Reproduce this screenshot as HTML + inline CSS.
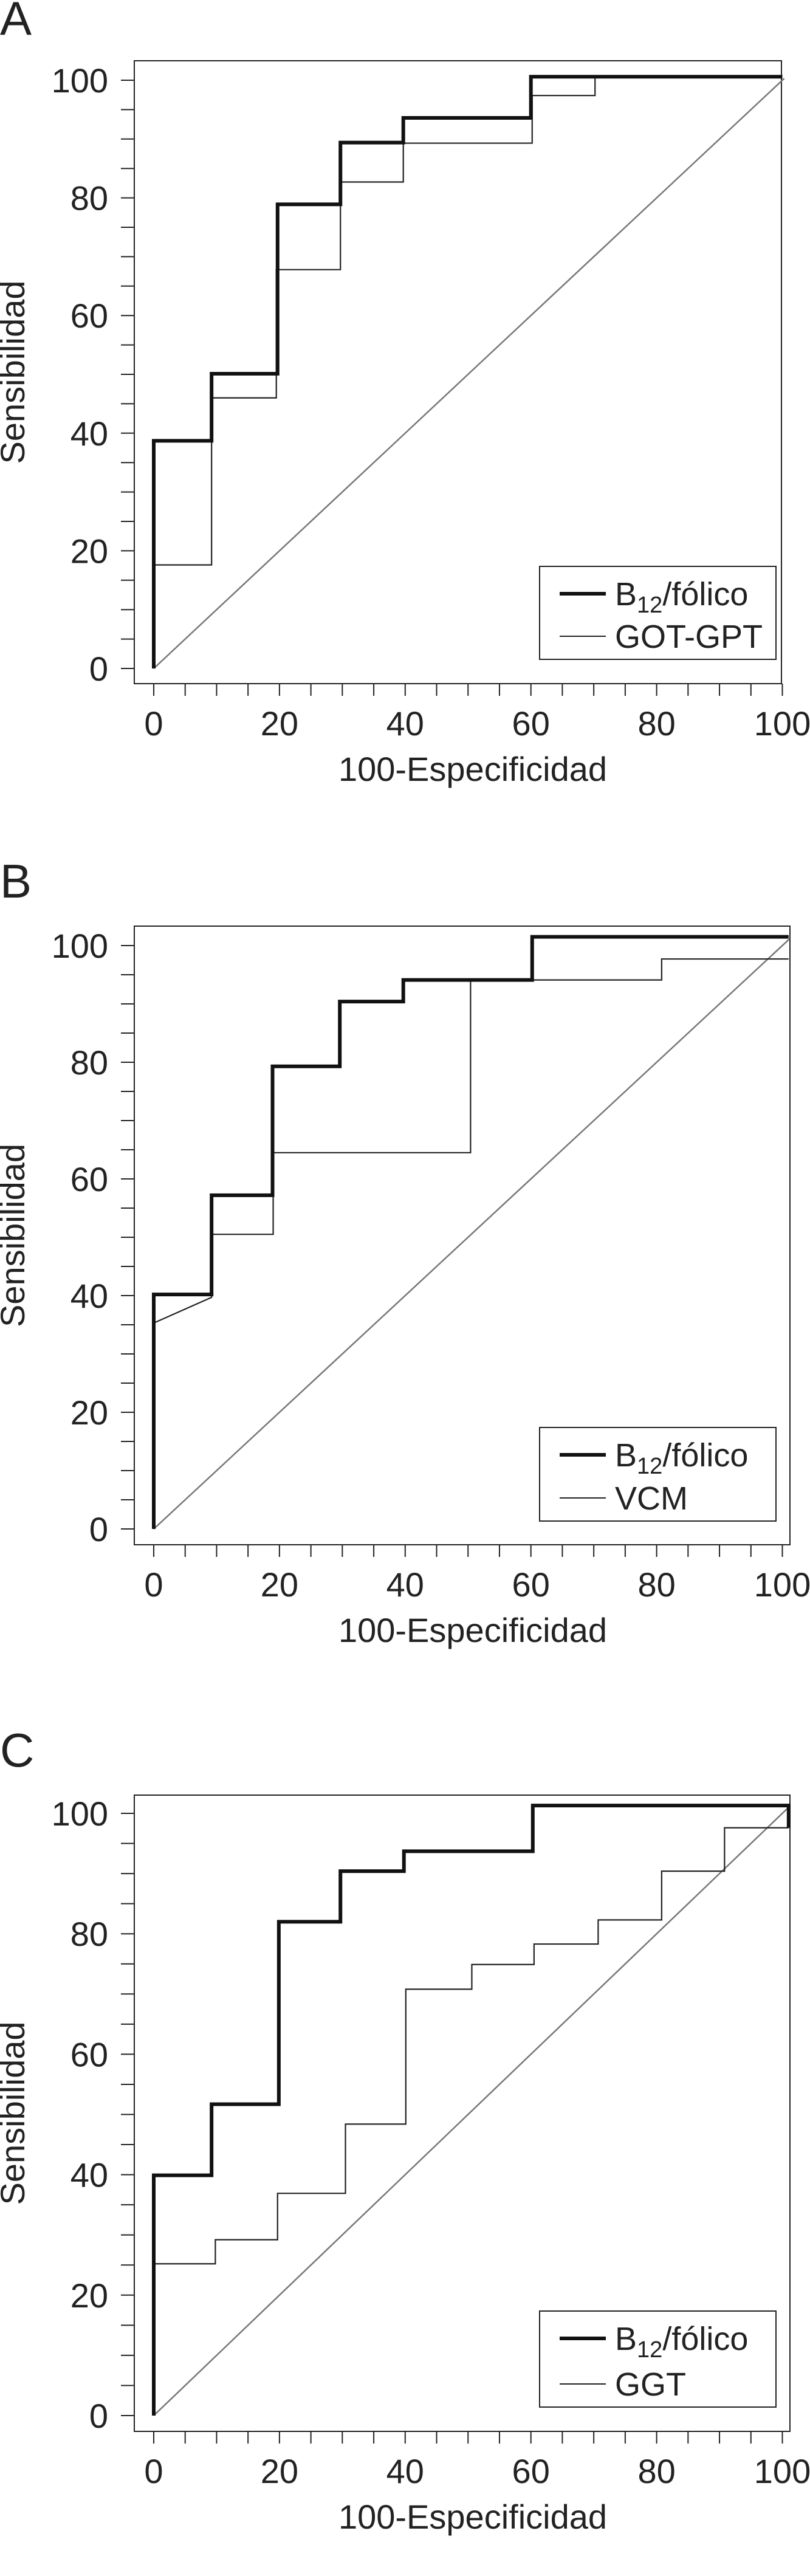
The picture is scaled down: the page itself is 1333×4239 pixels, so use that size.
<!DOCTYPE html>
<html><head><meta charset="utf-8">
<style>
html,body{margin:0;padding:0;background:#fff;}
svg{display:block;font-family:"Liberation Sans",Arial,sans-serif;}
</style></head>
<body>
<svg id="chart" width="1333" height="4239" viewBox="0 0 1333 4239" xmlns="http://www.w3.org/2000/svg"></svg>
<script>
const panelLabels = ["A","B","C"];
const compLabels = ["GOT-GPT","VCM","GGT"];
const xTicks = [0,20,40,60,80,100];
const yTicks = [0,20,40,60,80,100];
// B12/folico thick curves
const thickAx = [0,0,9.2,9.2,19.7,19.7,29.7,29.7,39.7,39.7,60,60,100];
const thickAy = [0,38.7,38.7,50.1,50.1,78.9,78.9,89.4,89.4,93.6,93.6,100.6,100.6];
const thinAx = [0,0,9.2,9.2,19.5,19.5,29.7,29.7,39.7,39.7,60.2,60.2,70.2,70.2,100];
const thinAy = [0,17.6,17.6,46,46,67.8,67.8,82.7,82.7,89.3,89.3,97.4,97.4,100.5,100.5];
const thickBx = [0,0,9.2,9.2,18.9,18.9,29.6,29.6,39.7,39.7,60.2,60.2,101];
const thickBy = [0,40.2,40.2,57.2,57.2,79.3,79.3,90.4,90.4,94.1,94.1,101.5,101.5];
const thinBx = [0,0,9.2,9.2,19,19,50.4,50.4,80.8,80.8,101];
const thinBy = [0,35.3,39.7,50.5,50.5,64.5,64.5,94.1,94.1,97.7,97.7];
const thickCx = [0,0,9.2,9.2,19.9,19.9,29.7,29.7,39.8,39.8,60.3,60.3,101,101];
const thickCy = [0,39.9,39.9,51.7,51.7,82,82,90.4,90.4,93.7,93.7,101.3,101.3,97.6];
const thinCx = [0,0,9.8,9.8,19.7,19.7,30.5,30.5,40.1,40.1,50.6,50.6,60.5,60.5,70.7,70.7,80.8,80.8,90.8,90.8,101];
const thinCy = [0,25.2,25.2,29.2,29.2,36.9,36.9,48.4,48.4,70.8,70.8,74.9,74.9,78.3,78.3,82.3,82.3,90.4,90.4,97.6,97.6];
const diagEnd = [100.3,101.1,101.1];

const NS="http://www.w3.org/2000/svg";
const svg=document.getElementById('chart');
function mk(tag,attrs,parent){const e=document.createElementNS(NS,tag);for(const k in attrs)e.setAttribute(k,attrs[k]);(parent||svg).appendChild(e);return e;}

const layouts=[
 {off:0,   boxT:100, boxB:1125, y0:1100, y100:132, boxR:1286, legT:932, legB:1085},
 {off:1420,boxT:104, boxB:1122, y0:1096, y100:136, boxR:1300, legT:929, legB:1083},
 {off:2850,boxT:104, boxB:1151, y0:1125, y100:134, boxR:1300, legT:953, legB:1111}
];
const series=[[thickAx,thickAy,thinAx,thinAy],[thickBx,thickBy,thinBx,thinBy],[thickCx,thickCy,thinCx,thinCy]];

layouts.forEach((L,i)=>{
  const g=mk('g',{transform:'translate(0,'+L.off+')'});
  
  
  const X=v=>253+v*10.345;
  const Y=v=>L.y0-v*(L.y0-L.y100)/100;
  const lbl=mk('text',{x:0,y:57,'font-size':78,fill:'#222'},g);lbl.textContent=panelLabels[i];
  
  
  const box=mk('rect',{x:221,y:L.boxT,width:L.boxR-221,height:L.boxB-L.boxT,fill:'none',stroke:'#222','stroke-width':2},g);
  
  
  for(let v=0;v<=100;v+=5){
    const t=mk('line',{x1:221,x2:199,y1:Y(v),y2:Y(v),stroke:'#222','stroke-width':2},g);
    
    
    const u=mk('line',{x1:X(v),x2:X(v),y1:L.boxB,y2:L.boxB+20,stroke:'#222','stroke-width':2},g);
    
    
  }
  yTicks.forEach(v=>{const t=mk('text',{x:178,y:Y(v)+20,'font-size':56,'text-anchor':'end',fill:'#222'},g);t.textContent=v;
    
    });
  xTicks.forEach(v=>{const t=mk('text',{x:X(v),y:L.boxB+85,'font-size':56,'text-anchor':'middle',fill:'#222'},g);t.textContent=v;
    
    });
  const xt=mk('text',{x:778,y:L.boxB+160,'font-size':56,'text-anchor':'middle',fill:'#222'},g);xt.textContent='100-Especificidad';
  
  
  const cy=(L.boxT+L.boxB)/2;
  const yt=mk('text',{x:0,y:0,'font-size':56,'text-anchor':'middle',fill:'#222',transform:'translate(40,'+cy+') rotate(-90)'},g);yt.textContent='Sensibilidad';
  
  
  const d=mk('line',{x1:X(0),y1:Y(0),x2:X(diagEnd[i]),y2:Y(diagEnd[i]),stroke:'#777','stroke-width':2.5},g);
  
  
  const s=series[i];
  const pts=(xs,ys)=>xs.map((v,k)=>X(v)+','+Y(ys[k])).join(' ');
  const thin=mk('polyline',{points:pts(s[2],s[3]),fill:'none',stroke:'#222','stroke-width':2.2},g);
  
  
  const thick=mk('polyline',{points:pts(s[0],s[1]),fill:'none',stroke:'#111','stroke-width':6},g);
  
  
  const lg=mk('g',{},g);
  
  
  mk('rect',{x:888,y:L.legT,width:389,height:L.legB-L.legT,fill:'#fff',stroke:'#222','stroke-width':2},lg);
  const r1=L.legT+45, r2=L.legB-38;
  mk('line',{x1:921,x2:997,y1:r1,y2:r1,stroke:'#111','stroke-width':6},lg);
  mk('line',{x1:921,x2:997,y1:r2,y2:r2,stroke:'#222','stroke-width':2},lg);
  const t1=mk('text',{x:1012,y:r1+19,'font-size':54,fill:'#222'},lg);
  t1.innerHTML='B<tspan font-size="38" dy="12">12</tspan><tspan dy="-12">/fólico</tspan>';
  
  
  const t2=mk('text',{x:1012,y:r2+19,'font-size':54,fill:'#222'},lg);t2.textContent=compLabels[i];
  
  
});
</script>
</body></html>
